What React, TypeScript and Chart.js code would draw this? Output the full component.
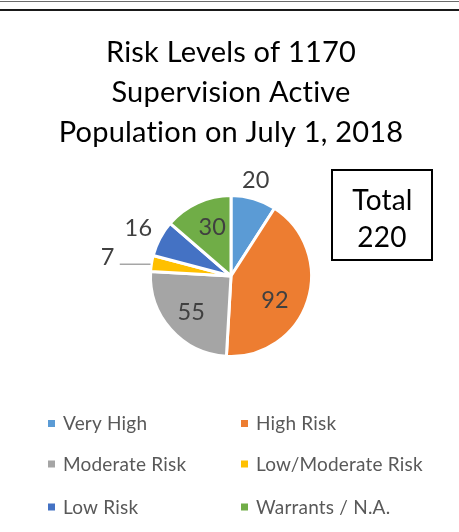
import React, { useEffect, useRef } from "react";
import { Chart, registerables } from "chart.js";

Chart.register(...registerables);

const titleLines = ["Risk Levels of 1170", "Supervision Active", "Population on July 1, 2018"];
const categories = ["Very High", "High Risk", "Moderate Risk", "Low/Moderate Risk", "Low Risk", "Warrants / N.A."];
const values = [20, 92, 55, 7, 16, 30];
const colors = ["#5B9BD5", "#ED7D31", "#A5A5A5", "#FFC000", "#4472C4", "#70AD47"];
const totalLabel = "Total";
const totalValue = values.reduce((a, b) => a + b, 0);

// label placement (radius factor, angle shift in degrees) per slice
const labelRadius = [1.24, 0.62, 0.66, 1.55, 1.3, 0.66];
const labelAngleShift = [-2, 10, 0, 0, 0, 4];

const FONT = "Lato, 'Open Sans', sans-serif";

function drawCentered(ctx: CanvasRenderingContext2D, text: string, x: number, y: number) {
  const m = ctx.measureText(text);
  const off = (m.actualBoundingBoxAscent - m.actualBoundingBoxDescent) / 2;
  ctx.textAlign = "center";
  ctx.textBaseline = "alphabetic";
  ctx.fillText(text, x, y + off);
}

const decorPlugin = {
  id: "decor",
  afterDraw(chart: any) {
    const ctx: any = chart.ctx;
    const W = chart.width;
    ctx.save();
    try {
      ctx.letterSpacing = "0.2px";
    } catch (e) {}
    // top rules
    ctx.strokeStyle = "#6b6b6b";
    ctx.lineWidth = 1;
    ctx.beginPath();
    ctx.moveTo(0, 1.5);
    ctx.lineTo(W, 1.5);
    ctx.stroke();
    ctx.strokeStyle = "#1a1a1a";
    ctx.lineWidth = 2;
    ctx.beginPath();
    ctx.moveTo(0, 10);
    ctx.lineTo(W, 10);
    ctx.stroke();

    // title
    ctx.fillStyle = "#000000";
    ctx.font = `29px ${FONT}`;
    ctx.textAlign = "center";
    ctx.textBaseline = "alphabetic";
    const baselines = [62, 101.5, 141.5];
    titleLines.forEach((t, i) => ctx.fillText(t, 231, baselines[i]));

    // total box
    ctx.strokeStyle = "#000000";
    ctx.lineWidth = 2;
    ctx.strokeRect(332, 170, 100, 90);
    ctx.font = `28px ${FONT}`;
    ctx.fillText(totalLabel, 382.5, 209.5);
    ctx.fillText(String(totalValue), 382, 247);

    // data labels
    const meta = chart.getDatasetMeta(0);
    ctx.font = `23.5px ${FONT}`;
    ctx.fillStyle = "#404040";
    meta.data.forEach((arc: any, i: number) => {
      const p = arc.getProps(["x", "y", "startAngle", "endAngle", "outerRadius"], true);
      const mid = (p.startAngle + p.endAngle) / 2 + (labelAngleShift[i] * Math.PI) / 180;
      const r = p.outerRadius;
      const lx = p.x + Math.cos(mid) * r * labelRadius[i];
      const ly = p.y + Math.sin(mid) * r * labelRadius[i];
      if (labelRadius[i] > 1.4) {
        const sx = p.x + Math.cos(mid) * (r + 1);
        const sy = p.y + Math.sin(mid) * (r + 1) + 1;
        ctx.strokeStyle = "#A6A6A6";
        ctx.lineWidth = 1.5;
        ctx.beginPath();
        ctx.moveTo(sx, sy);
        ctx.lineTo(lx + 12, sy);
        ctx.stroke();
      }
      drawCentered(ctx, String(values[i]), lx, ly);
    });

    // legend
    ctx.font = `19px ${FONT}`;
    const cols = [48, 241];
    const rows = [423.5, 464, 507];
    categories.forEach((c, i) => {
      const x = cols[i % 2];
      const y = rows[Math.floor(i / 2)];
      ctx.fillStyle = colors[i];
      ctx.fillRect(x, y - 3.5, 7, 7);
      ctx.fillStyle = "#595959";
      const m = ctx.measureText(c);
      ctx.textAlign = "left";
      ctx.textBaseline = "alphabetic";
      ctx.fillText(c, x + 15, y + m.actualBoundingBoxAscent / 2 - 0.5);
    });
    ctx.restore();
  },
};

export default function App() {
  const ref = useRef<HTMLCanvasElement | null>(null);
  useEffect(() => {
    if (!ref.current) return;
    const chart = new Chart(ref.current, {
      type: "pie",
      data: {
        labels: categories,
        datasets: [
          {
            data: values,
            backgroundColor: colors,
            borderColor: "#ffffff",
            borderWidth: 3,
          },
        ],
      },
      options: {
        responsive: false,
        animation: false,
        devicePixelRatio: 1,
        layout: { padding: { left: 149, right: 146, top: 194, bottom: 174 } },
        plugins: {
          legend: { display: false },
          tooltip: { enabled: false },
          title: { display: false },
        },
      },
      plugins: [decorPlugin],
    });
    return () => chart.destroy();
  }, []);
  return (
    <div style={{ position: "fixed", left: 0, top: 0, width: 459, height: 532, background: "#fff" }}>
      <canvas ref={ref} width={459} height={532} style={{ display: "block" }} />
    </div>
  );
}
